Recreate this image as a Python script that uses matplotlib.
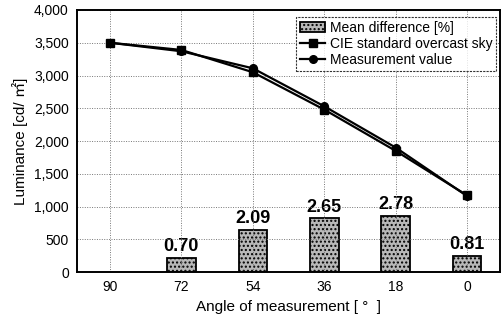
import matplotlib
matplotlib.use("Agg")
import matplotlib.pyplot as plt

angles = ["90", "72", "54", "36", "18", "0"]
cie = [3500, 3390, 3050, 2480, 1850, 1170]
measured = [3500, 3370, 3110, 2530, 1900, 1160]
bar_idx = [1, 2, 3, 4, 5]
mean_diff = [0.70, 2.09, 2.65, 2.78, 0.81]
yticks = [0, 500, 1000, 1500, 2000, 2500, 3000, 3500, 4000]

plt.rcParams["font.family"] = ["Liberation Sans", "DejaVu Sans"]

fig = plt.figure(figsize=(5.04, 3.22), dpi=100)
ax = fig.add_axes([0.153, 0.155, 0.839, 0.814])
ax2 = ax.twinx()

pos = list(range(len(angles)))
ax.set_xlim(-0.46, 5.46)
ax.set_ylim(0, 4000)
ax.set_yticks(yticks)
ax.set_yticklabels([f"{v:,}" for v in yticks], fontsize=10)
ax.set_xticks(pos)
ax.set_xticklabels(angles, fontsize=10)
ax.grid(True, color="#777777", linestyle=(0, (1, 1.5)), linewidth=0.7)
ax.set_axisbelow(True)
ax.tick_params(length=0, pad=6)
for s in ax.spines.values():
    s.set_linewidth(1.4)
ax.set_ylabel("Luminance [cd/ ㎡]", fontsize=11, family=["Liberation Sans", "Noto Sans CJK KR"])
ax.set_xlabel("Angle of measurement [ °  ]", fontsize=11)

bars = ax2.bar(bar_idx, mean_diff, width=0.4, color="#b8b8b8",
               edgecolor="black", linewidth=1.3, hatch="....")
for b, v in zip(bars, mean_diff):
    ax2.text(b.get_x() + b.get_width() / 2, v + 0.12, f"{v:.2f}",
             ha="center", va="bottom", fontsize=13, fontweight="bold")
ax2.set_ylim(0, 12.9)
ax2.set_yticks([])
for s in ax2.spines.values():
    s.set_visible(False)
ax2.set_zorder(ax.get_zorder() - 1)
ax.patch.set_visible(False)

h1, = ax.plot(pos, cie, color="black", marker="s", markersize=5.5,
              linewidth=1.6, zorder=3)
h2, = ax.plot(pos, measured, color="black", marker="o", markersize=5.5,
              linewidth=1.6, zorder=3)

leg = ax.legend([bars, h1, h2],
                ["Mean difference [%]", "CIE standard overcast sky", "Measurement value"],
                loc="upper right", bbox_to_anchor=(0.998, 0.985), fontsize=10,
                frameon=True, fancybox=False, edgecolor="black",
                handlelength=1.8, borderpad=0.3, labelspacing=0.15,
                handletextpad=0.3, borderaxespad=0.2)
leg.get_frame().set_linewidth(0.8)
leg.get_frame().set_linestyle((0, (2, 1)))

fig.savefig("out.png", dpi=100)
